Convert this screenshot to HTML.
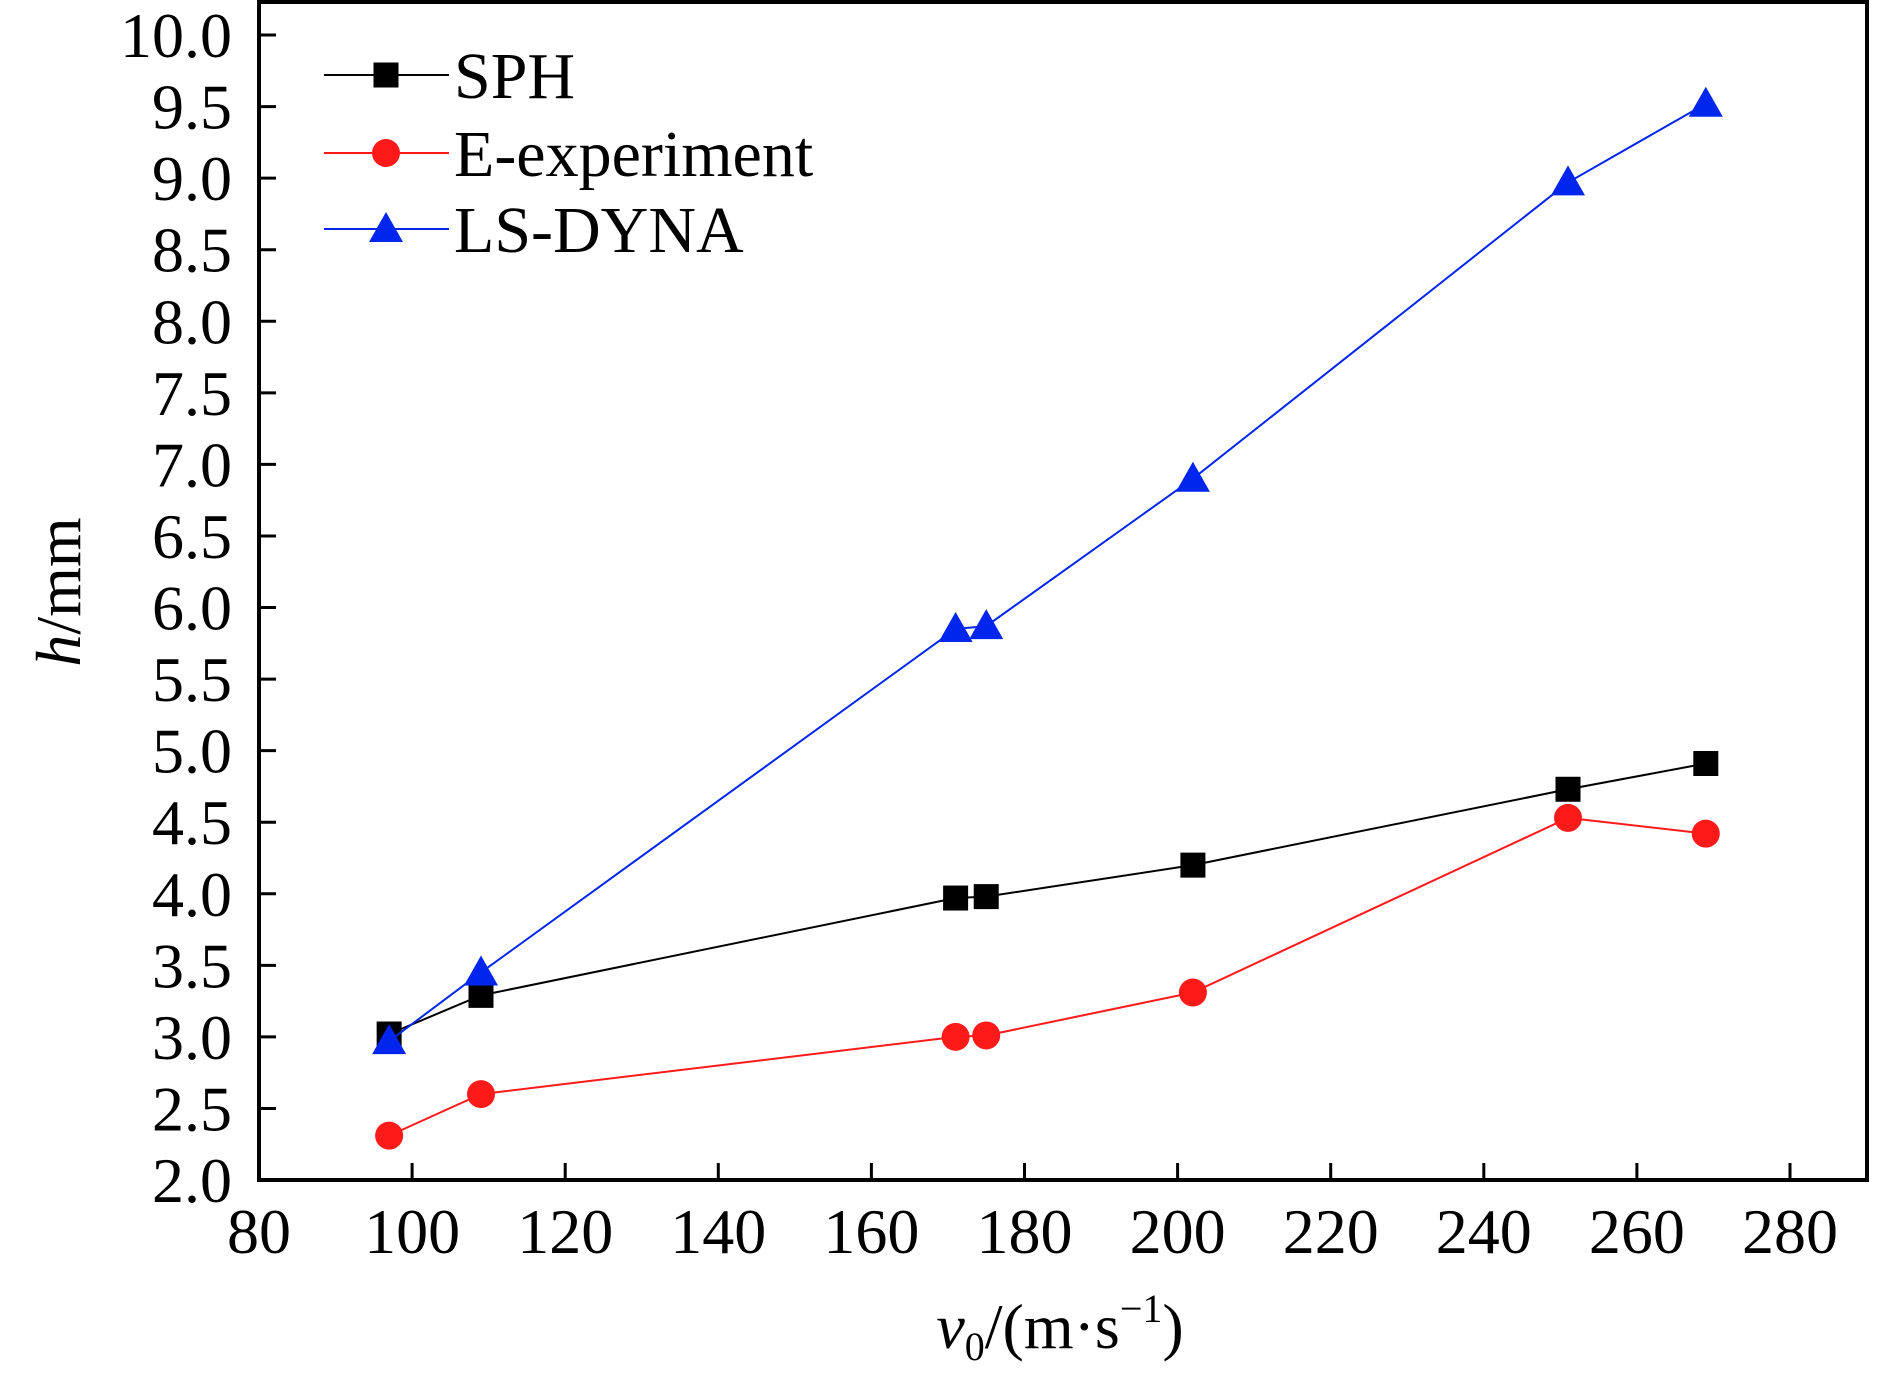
<!DOCTYPE html>
<html><head><meta charset="utf-8"><style>
html,body{margin:0;padding:0;background:#fff}
svg{display:block}
text{font-family:"Liberation Serif","DejaVu Serif",serif;fill:#000}
</style></head><body>
<svg id="chart" width="1890" height="1382" viewBox="0 0 1890 1382" xmlns="http://www.w3.org/2000/svg">
<g id="grid-layer"></g>
</svg>
<script>
const xValues = [97, 109, 171, 175, 202, 251, 269];
const sphValues = [3.02, 3.29, 3.97, 3.98, 4.20, 4.73, 4.91];
const expValues = [2.31, 2.60, 3.00, 3.01, 3.31, 4.53, 4.42];
const dynaValues = [2.97, 3.45, 5.85, 5.87, 6.90, 8.97, 9.52];
const xTicks = [80, 100, 120, 140, 160, 180, 200, 220, 240, 260, 280];
const yTicks = [2.0, 2.5, 3.0, 3.5, 4.0, 4.5, 5.0, 5.5, 6.0, 6.5, 7.0, 7.5, 8.0, 8.5, 9.0, 9.5, 10.0];

const NS = "http://www.w3.org/2000/svg";
const svg = document.getElementById('chart');
const L = 259, R = 1867, T = 2, B = 1180;
function xs(v){ return L + (v - 80) * (1790 - 259) / 200; }
function ys(v){ return 1180 - (v - 2) * (1180 - 35) / 8; }
function mk(tag, attrs){ const e = document.createElementNS(NS, tag); for (const k in attrs) e.setAttribute(k, attrs[k]); svg.appendChild(e); return e; }

const frame = mk('rect', {x:L, y:T, width:R-L, height:B-T, fill:'none', stroke:'#000', 'stroke-width':4});



xTicks.forEach(t => {
  const tk = mk('line', {x1:xs(t), x2:xs(t), y1:B, y2:B-17, stroke:'#000', 'stroke-width':3});
  
  
  const lb = mk('text', {x:xs(t), y:1253, 'font-size':64, 'text-anchor':'middle'});
  lb.textContent = String(t);
  
  
});
yTicks.forEach(t => {
  const tk = mk('line', {x1:L, x2:L+17, y1:ys(t), y2:ys(t), stroke:'#000', 'stroke-width':3});
  
  
  const lb = mk('text', {x:232, y:ys(t)+22, 'font-size':64, 'text-anchor':'end'});
  lb.textContent = t.toFixed(1);
  
  
});

function marker(kind, cx, cy, color){
  let e;
  if (kind === 'square') e = mk('rect', {x:cx-12.5, y:cy-12.5, width:25, height:25, fill:color});
  else if (kind === 'circle') e = mk('circle', {cx:cx, cy:cy, r:14, fill:color});
  else e = mk('polygon', {points:`${cx},${cy-17} ${cx-17},${cy+13} ${cx+17},${cy+13}`, fill:color});
  return e;
}
function series(vals, color, kind, name){
  const pts = xValues.map((x,i)=>xs(x)+','+ys(vals[i])).join(' ');
  const pl = mk('polyline', {points:pts, fill:'none', stroke:color, 'stroke-width':2});
  
  
  xValues.forEach((x,i)=>{
    const m = marker(kind, xs(x), ys(vals[i]), color);
    
    
  });
}
series(sphValues, '#000000', 'square', 'sph');
series(expValues, '#ff1a1a', 'circle', 'e-experiment');
series(dynaValues, '#0026ee', 'triangle', 'ls-dyna');

const leg = [['SPH','#000000','square',75],['E-experiment','#ff1a1a','circle',153],['LS-DYNA','#0026ee','triangle',229]];
leg.forEach(([lab,col,kind,y])=>{
  const ln = mk('line', {x1:324, x2:449, y1:y, y2:y, stroke:col, 'stroke-width':2});
  
  
  const m = marker(kind, 386, y, col);
  
  
  const tx = mk('text', {x:454, y:y+23, 'font-size':66});
  tx.textContent = lab;
  
  
});
</script>
<div style="position:absolute;left:0;top:0;width:1890px;height:1382px;pointer-events:none">
<svg width="1890" height="1382" style="position:absolute;left:0;top:0">
<text x="1060" y="1348" font-size="64" text-anchor="middle"><tspan font-style="italic">v</tspan><tspan font-size="40" dy="12">0</tspan><tspan dy="-12">/(m·s</tspan><tspan font-size="40" dy="-26">−1</tspan><tspan dy="26">)</tspan></text>
<text transform="translate(80,592) rotate(-90)" font-size="64" text-anchor="middle"><tspan font-style="italic">h</tspan>/mm</text>
</svg>
</div>
</body></html>
